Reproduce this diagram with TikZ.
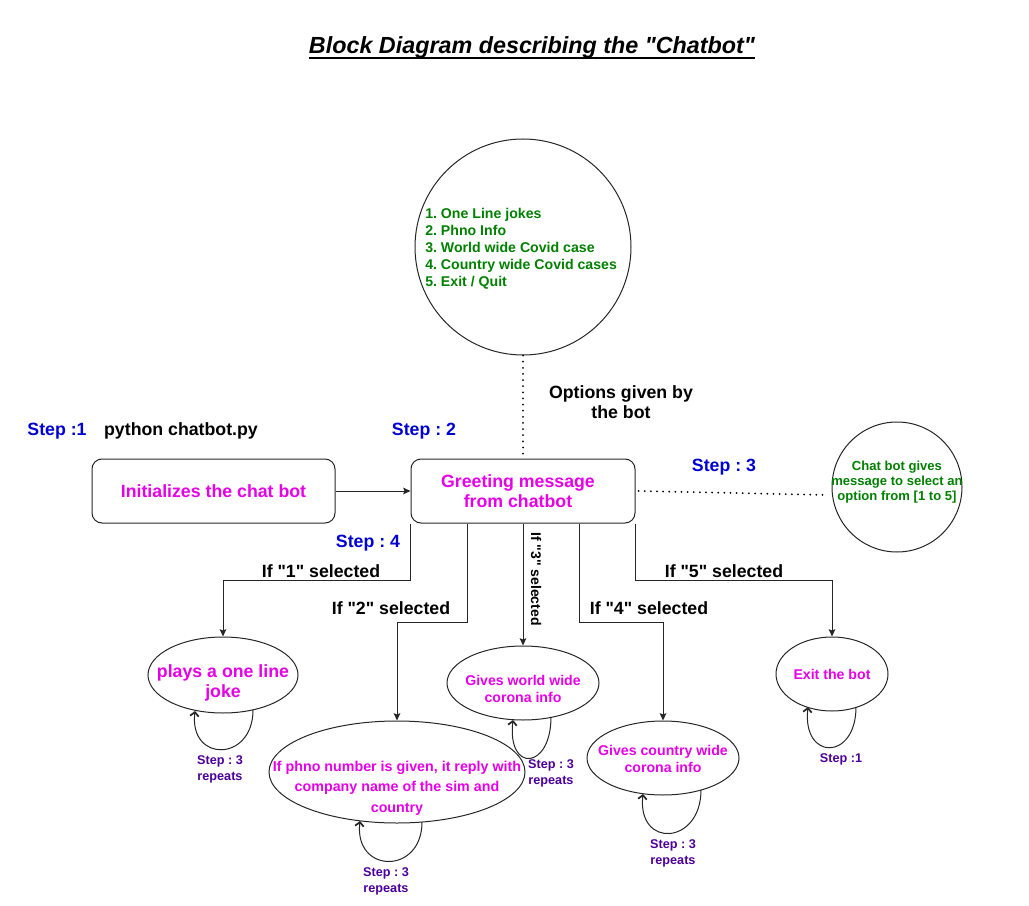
\documentclass[tikz,border=0pt]{standalone}
\usepackage{fontspec}
\setmainfont{Liberation Sans}
\newfontfamily\qfam{Liberation Sans}
\usetikzlibrary{shapes.geometric,arrows.meta,calc}
\definecolor{mag}{RGB}{230,0,230}
\definecolor{stepblue}{RGB}{0,0,210}
\definecolor{grn}{RGB}{0,128,0}
\definecolor{purp}{RGB}{76,0,153}
\newcommand\fttl{\fontsize{17.5}{21}\selectfont}
\newcommand\fbig{\fontsize{13.3}{15}\selectfont}
\newcommand\fmed{\fontsize{10.6}{12.75}\selectfont}
\newcommand\fwide{\fontsize{10.7}{15.3}\selectfont}
\newcommand\fsml{\fontsize{9.8}{11.25}\selectfont}
\newcommand\floop{\fontsize{9.5}{12}\selectfont}
\newcommand\dq{{\qfam"}}
\frenchspacing
\begin{document}
\begin{tikzpicture}[x=0.75pt,y=-0.75pt,
  lbl/.style={inner sep=0pt,align=center},
  boxst/.style={draw=black!85,line width=0.75pt,rounded corners=7.5pt,minimum height=48pt,inner sep=0pt},
  ellst/.style={draw=black!85,line width=0.75pt,ellipse,inner sep=0pt},
  circst/.style={draw=black!85,line width=0.75pt,circle,inner sep=0pt},
  arr/.style={draw=black!85,line width=0.75pt,-{Stealth[length=5.5pt,width=5pt,inset=1pt]}},
  dotln/.style={line width=1.5pt,line cap=round,dash pattern=on 0pt off 4.6pt},
  loopst/.style={draw=black!85,line width=0.75pt,-{Straight Barb[length=3pt,width=6.5pt,line width=1.3pt]}}
]
\useasboundingbox (0,0) rectangle (1029,906);
% title
\node[lbl,anchor=base,font=\fttl\bfseries\itshape] (title) at (532,54) {Block Diagram describing the \dq Chatbot\dq};
\draw[line width=1.3pt] ($(title.base west)+(0,4)$) -- ($(title.base east)+(0,4)$);

% big circle
\node[circst,minimum size=162pt] (bigc) at (523,247) {};
\node[lbl,anchor=west,align=left,text=grn,font=\fmed\bfseries] (opts) at (425,249) {1. One Line jokes\\2. Phno Info\\3. World wide Covid case\\4. Country wide Covid cases\\5. Exit / Quit};

% boxes
\node[boxst,minimum width=182.25pt] (b1) at (213.5,491) {};
\node[lbl,text=mag,font=\fbig\bfseries] (b1t) at (213.5,491) {Initializes the chat bot};
\node[boxst,minimum width=168pt] (b2) at (523,491) {};
\node[lbl,text=mag,font=\fbig\bfseries] (b2t) at (518,491) {Greeting message\\from chatbot};

% small circle
\node[circst,minimum size=97.5pt] (smc) at (897,487) {};
\node[lbl,text=grn,font=\fsml\bfseries] (smct) at (897,482) {Chat bot gives\\message to select an\\option from [1 to 5]};

% ellipses
\node[ellst,minimum width=112.5pt,minimum height=57pt] (e1) at (223,675) {};
\node[lbl,text=mag,font=\fbig\bfseries] (e1t) at (223,683) {plays a one line\\joke};
\node[ellst,minimum width=192pt,minimum height=76.5pt] (e2) at (397,772) {};
\node[lbl,text=mag,font=\fwide\bfseries] (e2t) at (397,788) {If phno number is given, it reply with\\company name of the sim and\\country};
\node[ellst,minimum width=114pt,minimum height=55.5pt] (e3) at (523,683) {};
\node[lbl,text=mag,font=\fmed\bfseries] (e3t) at (523,689) {Gives world wide\\corona info};
\node[ellst,minimum width=114pt,minimum height=55.5pt] (e4) at (663,758) {};
\node[lbl,text=mag,font=\fmed\bfseries] (e4t) at (663,759) {Gives country wide\\corona info};
\node[ellst,minimum width=84pt,minimum height=55.5pt] (e5) at (832,674) {};
\node[lbl,text=mag,font=\fmed\bfseries] (e5t) at (832,674) {Exit the bot};

% step / info labels
\node[lbl,text=stepblue,font=\fbig\bfseries] (s1) at (57,431) {Step :1};
\node[lbl,font=\fbig\bfseries] (py) at (181,431) {python chatbot.py};
\node[lbl,text=stepblue,font=\fbig\bfseries] (s2) at (424,431) {Step : 2};
\node[lbl,font=\fbig\bfseries] (optl) at (621,402) {Options given by\\the bot};
\node[lbl,text=stepblue,font=\fbig\bfseries] (s3) at (724,467) {Step : 3};
\node[lbl,text=stepblue,font=\fbig\bfseries] (s4) at (368,543) {Step : 4};

% connectors
\draw[arr] (b1.east) -- (b2.west);
\draw[dotln] (bigc.south) -- (b2.north);
\draw[dotln] ($(b2.east)+(3,0)$) -- ($(smc.west)+(-6,8)$);
\draw[arr] (b2.south west) -- ++(0,57) -| (e1.north);
\draw[arr] ($(b2.south)+(-56,0)$) -- ++(0,99) -| (e2.north);
\draw[arr] (b2.south) -- (e3.north);
\draw[arr] ($(b2.south)+(56,0)$) -- ++(0,99) -| (e4.north);
\draw[arr] (b2.south east) -- ++(0,57) -| (e5.north);

% branch labels
\node[lbl,font=\fbig\bfseries] (l1) at (321,571) {If \dq 1\dq{} selected};
\node[lbl,font=\fbig\bfseries] (l2) at (391,608) {If \dq 2\dq{} selected};
\node[lbl,rotate=-90,font=\fontsize{10.5}{12}\selectfont\bfseries] (l3) at (536,579) {If \dq 3\dq{} selected};
\node[lbl,font=\fbig\bfseries] (l4) at (649,608) {If \dq 4\dq{} selected};
\node[lbl,font=\fbig\bfseries] (l5) at (724,571) {If \dq 5\dq{} selected};

% self loops
\draw[loopst] ($(e1.center)+(30,35)$) .. controls +(0,52) and +(-6,52) .. ($(e1.center)+(-28,36)$);
\draw[loopst] ($(e2.center)+(25,50)$) .. controls +(0,53) and +(-6,53) .. ($(e2.center)+(-37,49)$);
\draw[loopst] ($(e3.center)+(28,34)$) .. controls +(0,53) and +(-6,53) .. ($(e3.center)+(-10,37)$);
\draw[loopst] ($(e4.center)+(38,32)$) .. controls +(0,55) and +(-6,55) .. ($(e4.center)+(-20,36)$);
\draw[loopst] ($(e5.center)+(24,33)$) .. controls +(0,54) and +(-6,54) .. ($(e5.center)+(-24,33)$);

% loop labels
\node[lbl,text=purp,font=\floop\bfseries] (r1) at (220,769) {Step : 3\\repeats};
\node[lbl,text=purp,font=\floop\bfseries] (r2) at (386,881) {Step : 3\\repeats};
\node[lbl,text=purp,font=\floop\bfseries] (r3) at (551,773) {Step : 3\\repeats};
\node[lbl,text=purp,font=\floop\bfseries] (r4) at (673,853) {Step : 3\\repeats};
\node[lbl,text=purp,font=\floop\bfseries] (r5) at (841,759) {Step :1};
\end{tikzpicture}
\end{document}
